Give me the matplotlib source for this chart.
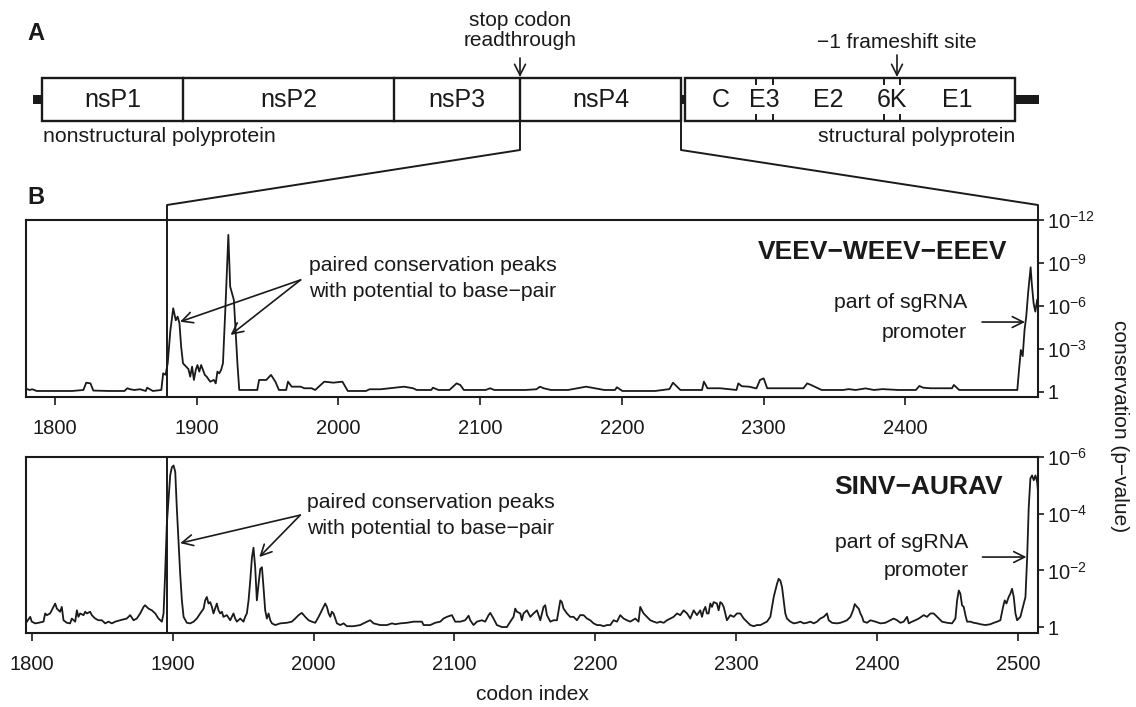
import matplotlib
matplotlib.use("Agg")
import matplotlib.pyplot as plt
from matplotlib.patches import Rectangle

plt.rcParams['font.family'] = ['Liberation Sans', 'DejaVu Sans']
plt.rcParams['mathtext.fontset'] = 'custom'
plt.rcParams['mathtext.rm'] = 'Liberation Sans'
plt.rcParams['mathtext.it'] = 'Liberation Sans:italic'
plt.rcParams['mathtext.bf'] = 'Liberation Sans:bold'

ink = '#1a1a1a'

### data: conservation score = -log10(p)

veev_codon = [1780, 1782, 1784, 1787, 1800, 1812, 1820, 1822, 1825, 1827, 1838, 1849, 1851, 1853,
              1856, 1860, 1864, 1865, 1869, 1875, 1876.3, 1878, 1879.5, 1881.4, 1883.4, 1885.2,
              1886.5, 1887.8, 1889.0, 1890.3, 1894.1, 1895.4, 1896.7, 1898.0, 1899.3, 1900.5,
              1901.8, 1903.1, 1904.4, 1905.7, 1907.0, 1909.5, 1912.1, 1913.4, 1914.6, 1915.9,
              1917.2, 1918.5, 1920.5, 1922.3, 1923.6, 1926.2, 1927.4, 1928.7, 1930.0, 1942.7,
              1944.0, 1949.1, 1952.4, 1955.5, 1958.0, 1963.1, 1964.4, 1967.0, 1973.4, 1975.9,
              1981.0, 1983.6, 1990.0, 1996.4, 2002.8, 2006.6, 2019.4, 2022.0, 2029.7, 2039.9,
              2046.3, 2052.7, 2055.2, 2065.5, 2066.7, 2070.6, 2078.3, 2083.4, 2086.0, 2088.5,
              2103.9, 2107, 2110, 2132, 2139.7, 2142.2, 2144.8, 2150, 2162, 2174.8, 2187.6,
              2195.2, 2196.5, 2200.4, 2223.4, 2233.6, 2236.1, 2238.7, 2241.3, 2256.6, 2257.9,
              2259.2, 2260.4, 2269.4, 2280.9, 2282.2, 2284.7, 2289.8, 2295, 2297.5, 2300.1,
              2302.6, 2328.2, 2330.8, 2333.3, 2341.0, 2356.3, 2360, 2365, 2372, 2378, 2384,
              2395, 2407.5, 2410.0, 2412.6, 2417.7, 2433.0, 2434.3, 2438.1, 2479.1, 2480.3,
              2481.6, 2482.9, 2484.2, 2485.4, 2486.7, 2488.5, 2489.3, 2490.6, 2491.8, 2493.1]
veev_score = [0.21, 0.14, 0.19, 0.07, 0.07, 0.07, 0.14, 0.65, 0.6, 0.1, 0.07, 0.07, 0.26, 0.19,
              0.14, 0.19, 0.07, 0.30, 0.07, 0.14, 1.3, 1.2, 2.0, 4.3, 5.84, 5.0,
              5.26, 4.8, 3.16, 2.0, 1.6, 1.07, 1.77, 0.84, 1.54, 1.88,
              1.42, 1.88, 1.54, 1.19, 1.07, 0.72, 0.84, 0.6, 1.42, 1.30,
              1.54, 2.0, 6.5, 10.96, 7.35, 6.42, 4.33, 2.0, 0.14, 0.14,
              0.84, 0.84, 1.19, 0.72, 0.14, 0.14, 0.72, 0.37, 0.37, 0.26,
              0.26, 0.14, 0.72, 0.65, 0.72, 0.07, 0.07, 0.19, 0.19, 0.30,
              0.37, 0.26, 0.14, 0.14, 0.30, 0.14, 0.14, 0.6, 0.49, 0.14,
              0.14, 0.26, 0.14, 0.14, 0.19, 0.37, 0.26, 0.14, 0.14, 0.37, 0.14,
              0.14, 0.33, 0.07, 0.07, 0.2, 0.65, 0.4, 0.14, 0.14, 0.72,
              0.49, 0.26, 0.26, 0.14, 0.6, 0.4, 0.37, 0.25, 0.84, 0.95,
              0.26, 0.26, 0.6, 0.5, 0.14, 0.14, 0.2, 0.14, 0.25, 0.14, 0.2,
              0.14, 0.14, 0.42, 0.3, 0.26, 0.26, 0.49, 0.14, 0.14, 1.54,
              2.93, 2.5, 4.33, 5.26, 6.89, 8.7, 7.58, 6.19, 5.61, 6.42]

sinv_codon = [1796.6, 1799.0, 1800.1, 1802.5, 1804.9, 1808.4, 1809.6, 1810.8, 1813.1, 1815.5,
              1816.7, 1817.9, 1820.2, 1821.4, 1822.6, 1825.0, 1827.3, 1828.5, 1830.9, 1832.1,
              1833.2, 1834.4, 1836.8, 1838.0, 1839.2, 1841.5, 1842.7, 1845.1, 1847.4, 1849.8,
              1852.2, 1854.5, 1856.9, 1859.3, 1862.8, 1867.5, 1869.9, 1872.3, 1874.6, 1877.0,
              1879.4, 1880.5, 1882.9, 1885.3, 1887.7, 1890.0, 1892.4, 1893.6, 1894.7, 1895.9,
              1898.3, 1899.5, 1900.7, 1901.9, 1903.0, 1904.2, 1905.4, 1906.6, 1907.8, 1910.1,
              1912.5, 1914.9, 1917.2, 1919.6, 1922.0, 1923.1, 1924.3, 1925.5, 1926.7, 1927.9,
              1929.0, 1930.2, 1931.4, 1932.6, 1933.8, 1935.0, 1936.1, 1938.5, 1940.9, 1943.2,
              1944.4, 1945.6, 1948.0, 1950.3, 1951.5, 1952.7, 1953.9, 1955.1, 1956.3, 1957.4,
              1958.6, 1959.8, 1961.0, 1962.2, 1963.4, 1964.5, 1965.7, 1966.9, 1968.1, 1969.3,
              1970.5, 1972.8, 1976.4, 1981.1, 1984.6, 1987.0, 1989.4, 1991.7, 1994.1, 1996.5,
              1998.8, 2001.2, 2003.6, 2005.9, 2008.3, 2009.5, 2010.7, 2011.9, 2013.0, 2014.2,
              2016.6, 2019.0, 2021.3, 2023.7, 2028.4, 2033.1, 2037.9, 2040.2, 2042.6, 2047.3,
              2052.1, 2055.6, 2058.0, 2061.5,
              2066.2, 2071.0, 2076.9, 2078.1, 2082.8, 2086.3, 2089.9, 2092.2, 2094.6, 2098.2,
              2100.5, 2104.1, 2107.6, 2110.0, 2111.2, 2113.5, 2115.9, 2119.5, 2121.8, 2124.2,
              2125.4, 2127.7, 2130.1, 2133.7, 2137.2, 2139.6, 2141.9, 2143.1, 2144.3, 2146.7,
              2147.8, 2149.0, 2151.4, 2153.8, 2156.1, 2158.5, 2160.9, 2163.2, 2164.4, 2165.6,
              2168.0, 2170.3, 2172.7, 2175.1, 2176.2, 2177.4, 2179.8, 2182.1, 2184.5, 2186.9,
              2189.2, 2191.6, 2194.0, 2196.3, 2198.7, 2201.1, 2203.4, 2205.8, 2208.2, 2210.5,
              2212.9, 2215.3, 2217.6, 2220.0, 2222.4, 2224.7, 2228.3, 2230.6, 2231.8, 2233.0,
              2234.2, 2236.6, 2238.9, 2241.3, 2243.7, 2246.0, 2248.4, 2250.8, 2253.1, 2255.5,
              2257.9, 2260.2, 2262.6, 2265.0, 2267.3, 2269.7, 2272.0, 2274.4, 2275.6, 2276.8,
              2278.0, 2279.1, 2280.3, 2281.5, 2282.7, 2283.9, 2286.2, 2287.4, 2288.6, 2289.8,
              2291.0, 2293.3, 2295.7, 2298.1, 2300.4, 2302.8, 2305.2, 2307.5, 2309.9, 2312.3,
              2314.6, 2317.0,
              2319.4, 2321.7, 2324.1, 2326.5, 2328.8, 2330.0, 2331.2, 2332.4, 2333.6, 2334.7,
              2335.9, 2338.3, 2340.7, 2343.0, 2345.4, 2347.8, 2350.1, 2352.5, 2354.9, 2357.2,
              2359.6, 2362.0, 2364.3, 2365.5, 2367.9, 2371.4, 2373.8, 2376.1, 2378.5, 2380.9,
              2382.8, 2384.0, 2385.6, 2386.8, 2388.0, 2389.2, 2390.3, 2392.7, 2395.1, 2398.6,
              2402.2, 2405.7, 2409.3, 2411.6, 2414.0, 2416.4, 2418.7, 2421.1, 2422.3, 2424.6,
              2427.0, 2429.4, 2432.9, 2435.3, 2437.7, 2440.0, 2442.4, 2445.9, 2449.5, 2453.0,
              2455.4, 2456.6, 2457.8, 2458.9, 2460.1, 2461.3, 2462.5, 2463.7, 2466.0, 2468.4,
              2470.8, 2473.1, 2476.7, 2480.2, 2482.6, 2485.0, 2487.3, 2489.2, 2490.4, 2491.6,
              2493.2, 2494.4, 2495.6, 2496.8, 2498.0, 2499.2, 2501.5, 2502.7, 2505.1, 2506.3,
              2507.4, 2508.6, 2509.8, 2511.0, 2512.2, 2513.4, 2514.5]
sinv_score = [0.19, 0.36, 0.19, 0.13, 0.15, 0.19, 0.48, 0.42, 0.48, 0.71,
              0.83, 0.65, 0.54, 0.71, 0.24, 0.15, 0.13, 0.30, 0.19, 0.59,
              0.36, 0.48, 0.42, 0.54, 0.48, 0.54, 0.42, 0.30, 0.24, 0.24,
              0.13, 0.19, 0.13, 0.19, 0.24, 0.30, 0.42, 0.24, 0.30, 0.48,
              0.71, 0.77, 0.65, 0.59, 0.48, 0.30, 0.19, 0.48, 1.87, 3.61,
              5.35, 5.64, 5.70, 5.47, 4.20, 3.03, 1.87, 0.94, 0.36, 0.15,
              0.13, 0.19, 0.30, 0.48, 0.65, 0.94, 1.06, 0.83, 0.88, 0.71,
              0.48, 0.65, 0.83, 0.59, 0.48, 0.54, 0.36, 0.42, 0.24, 0.48,
              0.30, 0.19, 0.30, 0.19, 0.36, 0.48, 0.94, 1.64, 2.45, 2.80,
              2.11, 0.94, 1.52, 2.05, 2.11, 1.41, 0.59, 0.30, 0.48, 0.24,
              0.13, 0.07, 0.13, 0.15, 0.19, 0.30, 0.42, 0.50, 0.36, 0.24,
              0.19, 0.15, 0.36, 0.59, 0.83, 0.71, 0.48, 0.36, 0.54, 0.48,
              0.13, 0.07, 0.13, 0.03, 0.03, 0.07, 0.19, 0.24, 0.13, 0.07,
              0.07, 0.13, 0.10, 0.13,
              0.15, 0.19, 0.19, 0.07, 0.07, 0.15, 0.19, 0.30, 0.36, 0.42,
              0.19, 0.19, 0.24, 0.40, 0.24, 0.07, 0.19, 0.24, 0.19, 0.42,
              0.50, 0.30, 0.07, 0.0, 0.0, 0.19, 0.36, 0.65, 0.54, 0.48,
              0.24, 0.48, 0.59, 0.36, 0.48, 0.59, 0.24, 0.71, 0.77, 0.42,
              0.19, 0.24, 0.24, 0.94, 0.88, 0.65, 0.48, 0.36, 0.36, 0.24,
              0.42, 0.42, 0.30, 0.24, 0.13, 0.07, 0.07, 0.03, 0.07, 0.07,
              0.24, 0.19, 0.42, 0.30, 0.24, 0.19, 0.30, 0.19, 0.71, 0.59,
              0.48, 0.36, 0.24, 0.19, 0.15, 0.19, 0.15, 0.24, 0.30, 0.36,
              0.48, 0.42, 0.59, 0.48, 0.30, 0.59, 0.42, 0.59, 0.36, 0.59,
              0.71, 0.48, 0.48, 0.83, 0.71, 0.88, 0.83, 0.59, 0.88, 0.83,
              0.71, 0.24, 0.42, 0.36, 0.48, 0.48, 0.30, 0.19, 0.07, 0.03,
              0.07, 0.07,
              0.13, 0.19, 0.36, 1.06, 1.52, 1.70, 1.64, 1.41, 0.94, 0.48,
              0.30, 0.19, 0.13, 0.15, 0.19, 0.13, 0.15, 0.19, 0.13, 0.19,
              0.30, 0.36, 0.48, 0.24, 0.15, 0.13, 0.15, 0.19, 0.24, 0.36,
              0.59, 0.81, 0.71, 0.65, 0.48, 0.36, 0.19, 0.15, 0.24, 0.19,
              0.13, 0.15, 0.24, 0.30, 0.24, 0.15, 0.19, 0.36, 0.13, 0.19,
              0.24, 0.30, 0.42, 0.36, 0.48, 0.48, 0.36, 0.19, 0.15, 0.13,
              0.30, 0.94, 1.29, 1.18, 0.77, 0.71, 0.42, 0.19, 0.19, 0.15,
              0.13, 0.10, 0.07, 0.10, 0.15, 0.19, 0.24, 0.71, 0.94, 0.83,
              1.06, 1.18, 1.35, 1.06, 0.48, 0.24, 0.36, 0.59, 1.06, 2.45,
              4.20, 5.24, 5.35, 5.18, 5.35, 5.12, 4.5]

veev_nsp4_start = 1879
sinv_nsp4_start = 1896

veev_yticks = [0, 3, 6, 9, 12]
veev_ylabels = ['1', '$10^{-3}$', '$10^{-6}$', '$10^{-9}$', '$10^{-12}$']
sinv_yticks = [0, 2, 4, 6]
sinv_ylabels = ['1', '$10^{-2}$', '$10^{-4}$', '$10^{-6}$']
veev_xticks = [1800, 1900, 2000, 2100, 2200, 2300, 2400]
sinv_xticks = [1800, 1900, 2000, 2100, 2200, 2300, 2400, 2500]

# genome schematic (diagram units = figure pixels)
ns_names = ['nsP1', 'nsP2', 'nsP3', 'nsP4']
ns_edges = [42, 183, 394, 520, 681]
st_names = ['C', 'E3', 'E2', '6K', 'E1']
st_edges = [685, 756, 773, 884, 899.5, 1015]


W, H = 1136, 707
fig = plt.figure(figsize=(W / 100, H / 100), dpi=100)


def px_axes(left, top, right, bottom):
    return fig.add_axes([left / W, 1 - bottom / H, (right - left) / W, (bottom - top) / H])


arrow_kw = dict(arrowstyle='->,head_length=0.6,head_width=0.3', mutation_scale=13,
                color=ink, lw=1.2, shrinkA=0, shrinkB=0)


def style_panel(ax, yticks, ylabels, xticks):
    for s in ax.spines.values():
        s.set_linewidth(1.5)
        s.set_color(ink)
    ax.yaxis.tick_right()
    ax.set_yticks(yticks)
    ax.set_yticklabels(ylabels)
    ax.set_xticks(xticks)
    ax.tick_params(axis='y', direction='out', length=4.5, width=1.2, pad=2,
                   labelsize=14.5, colors=ink)
    ax.tick_params(axis='x', direction='out', length=5.5, width=1.2, pad=10,
                   labelsize=14.5, colors=ink)


### panel B top: VEEV-WEEV-EEEV
ax1 = px_axes(26, 220, 1038, 397)
ax1.plot(veev_codon, veev_score, color=ink, lw=1.3)
ax1.axvline(veev_nsp4_start, color=ink, lw=1.4)
ax1.set_xlim(1779.5, 2493.7)
ax1.set_ylim(-0.35, 12)
style_panel(ax1, veev_yticks, veev_ylabels, veev_xticks)
ax1.text(0.970, 0.819, 'VEEV\u2212WEEV\u2212EEEV', transform=ax1.transAxes,
         ha='right', va='center', fontsize=19, fontweight='bold', color=ink)
ax1.annotate('', xy=(1888.2, 4.9), xytext=(1973.3, 7.82), arrowprops=arrow_kw)
ax1.annotate('', xy=(1923.9, 3.98), xytext=(1973.3, 7.82), arrowprops=arrow_kw)
ax1.text(1979.3, 8.86, 'paired conservation peaks', ha='left', va='center', fontsize=15.3, color=ink)
ax1.text(1979.3, 6.98, 'with potential to base\u2212pair', ha='left', va='center', fontsize=15.3, color=ink)
ax1.annotate('', xy=(2484.5, 4.88), xytext=(2454.2, 4.88), arrowprops=arrow_kw)
ax1.text(2443.6, 6.21, 'part of sgRNA', ha='right', va='center', fontsize=15.3, color=ink)
ax1.text(2443.6, 4.12, 'promoter', ha='right', va='center', fontsize=15.3, color=ink)

### panel B bottom: SINV-AURAV
ax2 = px_axes(26, 457, 1038, 633)
ax2.plot(sinv_codon, sinv_score, color=ink, lw=1.3)
ax2.axvline(sinv_nsp4_start, color=ink, lw=1.4)
ax2.set_xlim(1796, 2514)
ax2.set_ylim(-0.21, 6)
style_panel(ax2, sinv_yticks, sinv_ylabels, sinv_xticks)
ax2.text(0.965, 0.83, 'SINV\u2212AURAV', transform=ax2.transAxes,
         ha='right', va='center', fontsize=19, fontweight='bold', color=ink)
ax2.annotate('', xy=(1905.4, 2.96), xytext=(1990.6, 3.95), arrowprops=arrow_kw)
ax2.annotate('', xy=(1961.5, 2.47), xytext=(1990.6, 3.95), arrowprops=arrow_kw)
ax2.text(1995.5, 4.41, 'paired conservation peaks', ha='left', va='center', fontsize=15.3, color=ink)
ax2.text(1995.5, 3.49, 'with potential to base\u2212pair', ha='left', va='center', fontsize=15.3, color=ink)
ax2.annotate('', xy=(2505.8, 2.47), xytext=(2474.6, 2.47), arrowprops=arrow_kw)
ax2.text(2464.7, 3.0, 'part of sgRNA', ha='right', va='center', fontsize=15.3, color=ink)
ax2.text(2464.7, 2.01, 'promoter', ha='right', va='center', fontsize=15.3, color=ink)

### overlay: genome diagram, zoom lines, shared labels
ov = fig.add_axes([0, 0, 1, 1])
ov.set_xlim(0, W)
ov.set_ylim(H, 0)
ov.axis('off')
ov.patch.set_alpha(0)

box_top, box_bot = 78, 121
lw_box = 1.7
# RNA stubs
ov.add_patch(Rectangle((33, 95), ns_edges[0] - 33, 9, color=ink, lw=0))
ov.add_patch(Rectangle((ns_edges[-1], 95), st_edges[0] - ns_edges[-1], 9, color=ink, lw=0))
ov.add_patch(Rectangle((st_edges[-1], 95), 1039 - st_edges[-1], 9, color=ink, lw=0))
# nonstructural box
ov.add_patch(Rectangle((ns_edges[0], box_top), ns_edges[-1] - ns_edges[0], box_bot - box_top,
                       fill=False, ec=ink, lw=lw_box))
for e in ns_edges[1:-1]:
    ov.plot([e, e], [box_top, box_bot], color=ink, lw=lw_box)
for name, a, b in zip(ns_names, ns_edges[:-1], ns_edges[1:]):
    ov.text((a + b) / 2, 100, name, ha='center', va='center', fontsize=18, color=ink)
# structural box
ov.add_patch(Rectangle((st_edges[0], box_top), st_edges[-1] - st_edges[0], box_bot - box_top,
                       fill=False, ec=ink, lw=lw_box))
for e in st_edges[1:-1]:
    ov.plot([e, e], [box_top, box_top + 6], color=ink, lw=1.4)
    ov.plot([e, e], [box_bot - 6, box_bot], color=ink, lw=1.4)
for name, a, b in zip(st_names, st_edges[:-1], st_edges[1:]):
    ov.text((a + b) / 2, 100, name, ha='center', va='center', fontsize=18, color=ink)

ov.text(43, 137, 'nonstructural polyprotein', ha='left', va='center', fontsize=15.3, color=ink)
ov.text(st_edges[-1], 137, 'structural polyprotein', ha='right', va='center', fontsize=15.3, color=ink)

ov.text(ns_edges[3], 20, 'stop codon', ha='center', va='center', fontsize=15, color=ink)
ov.text(ns_edges[3], 40, 'readthrough', ha='center', va='center', fontsize=15, color=ink)
ov.annotate('', xy=(ns_edges[3], 77), xytext=(ns_edges[3], 58), arrowprops=arrow_kw)
fs_x = 897
ov.text(fs_x, 43, '\u22121 frameshift site', ha='center', va='center', fontsize=15, color=ink)
ov.annotate('', xy=(fs_x, 77), xytext=(fs_x, 55), arrowprops=arrow_kw)

ov.text(27, 33, 'A', ha='left', va='center', fontsize=17, fontweight='bold', color=ink)
ov.text(27, 198, 'B', ha='left', va='center', fontsize=17, fontweight='bold', color=ink)

# zoom lines from nsP4 down to panel B
x_left = ax1.transData.transform((veev_nsp4_start, 0))[0]
x_right = ax1.transAxes.transform((1, 0))[0]
ov.plot([ns_edges[3], ns_edges[3], x_left, x_left], [123, 150, 205, 221], color=ink, lw=1.4)
ov.plot([ns_edges[4], ns_edges[4], x_right, x_right], [123, 150, 205, 221], color=ink, lw=1.4)

ov.text(532, 694, 'codon index', ha='center', va='center', fontsize=15, color=ink)
ov.text(1120, 426, 'conservation (p\u2212value)', ha='center', va='center', rotation=-90,
        fontsize=15, color=ink)

fig.savefig('out.png', dpi=100)
